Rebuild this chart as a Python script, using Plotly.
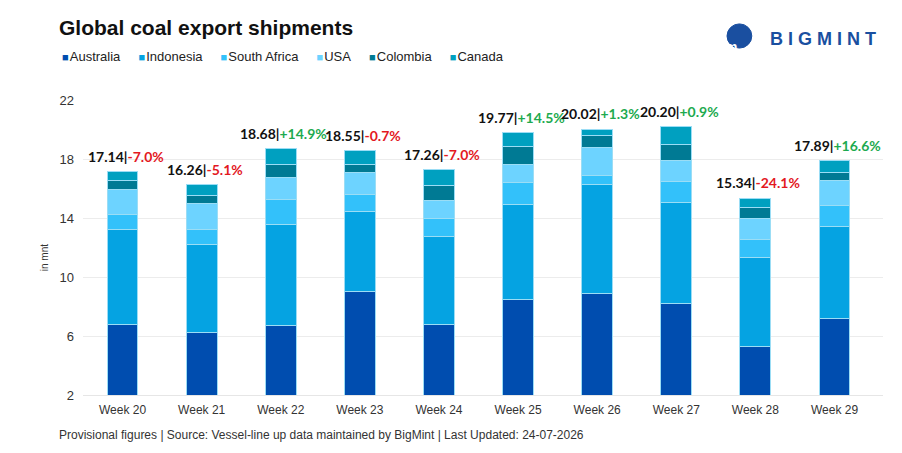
import plotly.graph_objects as go

# ---------------------------------------------------------- DATA ----------------------------------------------------------#
weeks = ["Week 20", "Week 21", "Week 22", "Week 23", "Week 24",
         "Week 25", "Week 26", "Week 27", "Week 28", "Week 29"]

australia = [6.79, 6.21, 6.73, 9.00, 6.81, 8.46, 8.89, 8.23, 5.31, 7.18]
indonesia = [6.44, 5.99, 6.84, 5.42, 5.95, 6.44, 7.36, 6.80, 5.99, 6.25]
south_africa = [1.04, 1.01, 1.68, 1.15, 1.24, 1.53, 0.60, 1.47, 1.23, 1.42]
usa = [1.63, 1.80, 1.47, 1.51, 1.17, 1.17, 1.90, 1.39, 1.42, 1.71]
colombia = [0.63, 0.49, 0.88, 0.52, 1.01, 1.23, 0.87, 1.06, 0.76, 0.50]
canada = [0.61, 0.76, 1.08, 0.95, 1.08, 0.94, 0.40, 1.25, 0.63, 0.83]

totals = [17.14, 16.26, 18.68, 18.55, 17.26, 19.77, 20.02, 20.20, 15.34, 17.89]
changes = ["-7.0%", "-5.1%", "+14.9%", "-0.7%", "-7.0%",
           "+14.5%", "+1.3%", "+0.9%", "-24.1%", "+16.6%"]

series = [
    ("Australia", australia, "#004DAF"),
    ("Indonesia", indonesia, "#05A3E2"),
    ("South Africa", south_africa, "#33C1FA"),
    ("USA", usa, "#6DD3FF"),
    ("Colombia", colombia, "#007A94"),
    ("Canada", canada, "#00A0C0"),
]

# ---------------------------------------------------------- FIGURE ----------------------------------------------------------#
fig = go.Figure()
for name, vals, col in series:
    fig.add_trace(go.Bar(x=weeks, y=vals, name=name, marker_color=col,
                         marker_line=dict(color="#9BDDF5", width=1),
                         width=0.39, showlegend=False))

# labels on top of bars: total in black, week-on-week change in red/green
for wk, tot, chg in zip(weeks, totals, changes):
    c = "#1DAA4F" if chg.startswith("+") else "#E3191F"
    fig.add_annotation(x=wk, y=tot, yanchor="bottom", yshift=5, xshift=3, showarrow=False,
                       text=f"<b>{tot:.2f}|</b><b><span style='color:{c}'>{chg}</span></b>",
                       font=dict(family="Lato", size=14, color="#111111"))

# custom legend line
legend_txt = "&nbsp;&nbsp;&nbsp;&nbsp;&nbsp;".join(
    f"<span style='color:{col};font-size:11px'>■</span>\u200a{name}" for name, _, col in series)
fig.add_annotation(xref="paper", yref="paper", x=-0.029, y=1.146, xanchor="left", yanchor="middle",
                   showarrow=False, text=legend_txt,
                   font=dict(family="Liberation Sans", size=13, color="#222222"))

# title and footer
fig.add_annotation(xref="paper", yref="paper", x=-0.033, y=1.247, xanchor="left", yanchor="middle",
                   showarrow=False, text="<b>Global coal export shipments</b>",
                   font=dict(family="Liberation Sans", size=21, color="#111111"))
fig.add_annotation(xref="paper", yref="paper", x=-0.033, y=-0.136, xanchor="left", yanchor="middle",
                   showarrow=False,
                   text="Provisional figures | Source: Vessel-line up data maintained by BigMint | Last Updated: 24-07-2026",
                   font=dict(family="Liberation Sans", size=12, color="#333333"))
fig.add_annotation(xref="paper", yref="paper", x=-0.058, y=0.464, textangle=-90, showarrow=False,
                   text="in mnt", font=dict(family="Liberation Sans", size=10, color="#333333"))

# logo
fig.add_shape(type="circle", xref="paper", yref="paper", x0=0.805, x1=0.836, y0=1.176, y1=1.258,
              fillcolor="#1A4FA0", line=dict(color="#1A4FA0", width=1))
fig.add_annotation(xref="paper", yref="paper", x=0.8205, y=1.214, showarrow=False, text="<b>m</b>",
                   font=dict(family="Liberation Sans", size=14, color="white"))
fig.add_annotation(xref="paper", yref="paper", x=0.994, y=1.207, xanchor="right", yanchor="middle",
                   showarrow=False, text="<b>B I G M I N T</b>",
                   font=dict(family="Liberation Sans", size=18, color="#1A4FA0"))

# page body has an 8px margin, so the margins are reduced by that much
fig.update_layout(
    barmode="stack",
    width=902, height=453,
    margin=dict(l=75, r=27, t=92, b=66),
    paper_bgcolor="white", plot_bgcolor="white",
    font=dict(family="Liberation Sans", size=12, color="#333333"),
)
fig.update_xaxes(showgrid=False, showline=True, linecolor="#E6E6E6", ticks="", ticklabelstandoff=4)
fig.update_yaxes(range=[2, 22], tick0=2, dtick=4, showgrid=True, gridcolor="#ECECEC",
                 zeroline=False, ticks="", ticklabelstandoff=8, tickfont=dict(size=13))

fig.write_html("out.html")
